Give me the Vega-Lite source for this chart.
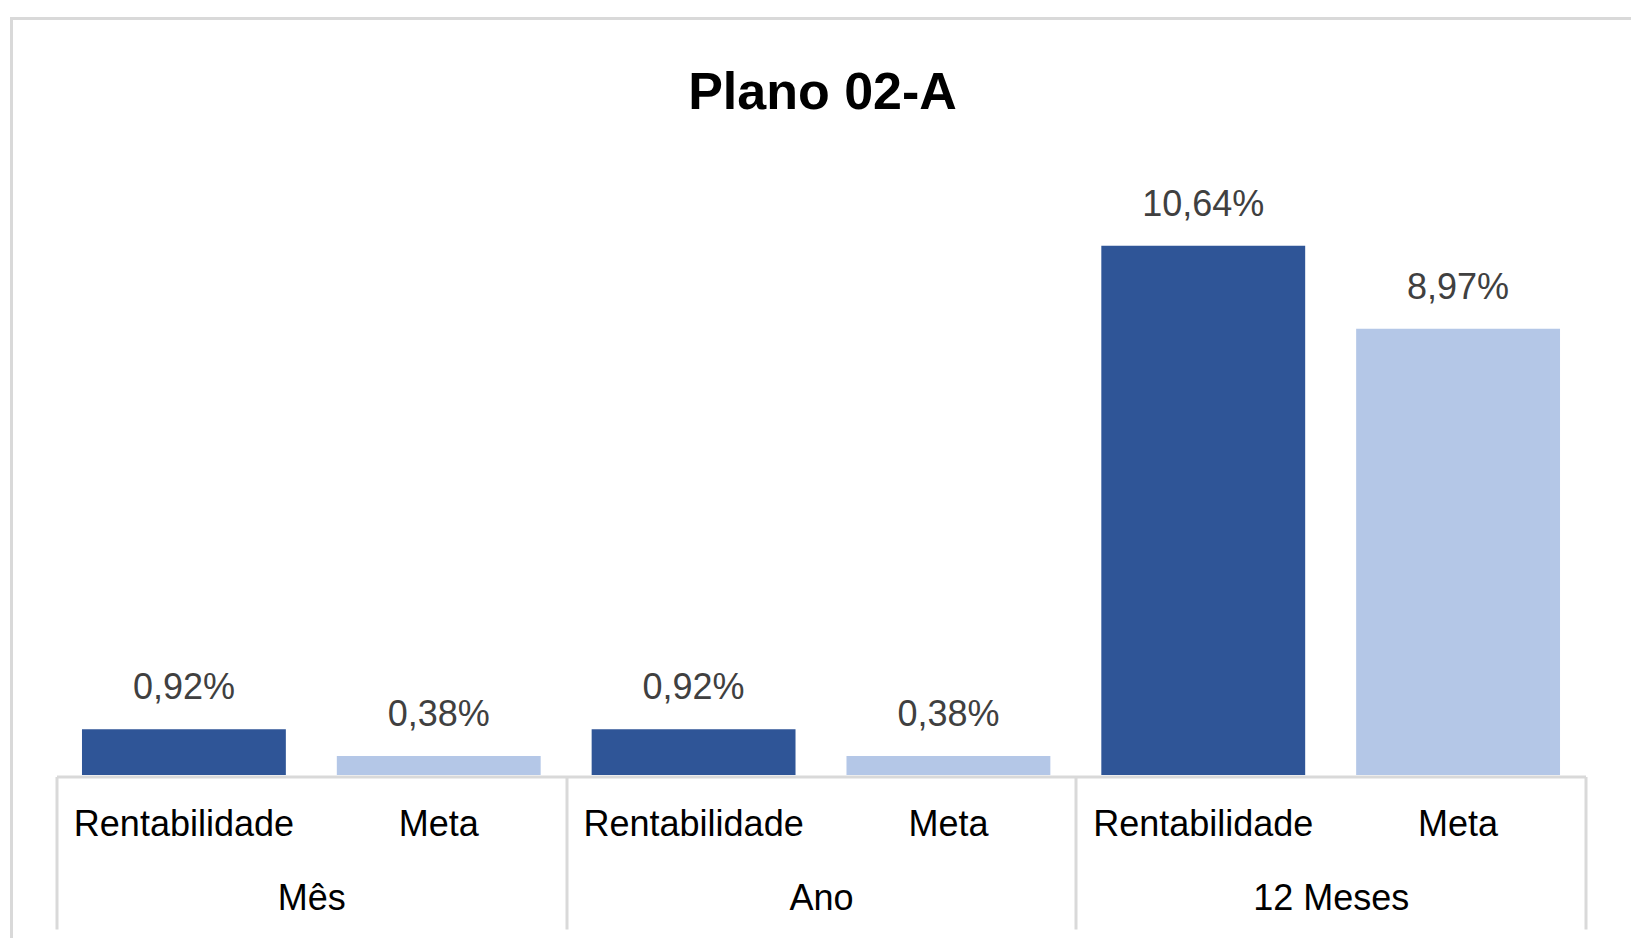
{
  "$schema": "https://vega.github.io/schema/vega-lite/v6.json",
  "autosize": {"type": "none"},
  "padding": {"left": 11.5, "top": 18.5, "right": 0, "bottom": 0},
  "width": 1640,
  "height": 940,
  "background": "#ffffff",
  "config": {
    "view": {"stroke": "#d9d9d9", "strokeWidth": 3},
    "locale": {"number": {"decimal": ",", "thousands": ".", "grouping": [3], "currency": ["R$", ""]}}
  },
  "title": {
    "text": "Plano 02-A",
    "font": "Liberation Sans",
    "fontSize": 52,
    "fontWeight": "bold",
    "color": "#000000",
    "anchor": "middle",
    "frame": "group",
    "offset": -91.5,
    "baseline": "alphabetic",
    "dx": -9,
    "dy": 51
  },
  "data": {
    "values": [
      {"key": "Mês|Rentabilidade", "grupo": "Mês", "serie": "Rentabilidade", "valor": 0.0092},
      {"key": "Mês|Meta", "grupo": "Mês", "serie": "Meta", "valor": 0.0038},
      {"key": "Ano|Rentabilidade", "grupo": "Ano", "serie": "Rentabilidade", "valor": 0.0092},
      {"key": "Ano|Meta", "grupo": "Ano", "serie": "Meta", "valor": 0.0038},
      {"key": "12 Meses|Rentabilidade", "grupo": "12 Meses", "serie": "Rentabilidade", "valor": 0.1064},
      {"key": "12 Meses|Meta", "grupo": "12 Meses", "serie": "Meta", "valor": 0.0897}
    ]
  },
  "layer": [
    {
      "encoding": {
        "x": {
          "field": "key",
          "type": "nominal",
          "sort": null,
          "scale": {"range": [45, 1574], "paddingInner": 0.2, "paddingOuter": 0.1},
          "axis": {
            "orient": "bottom",
            "offset": -182,
            "title": null,
            "labelExpr": "split(datum.value, '|')[1]",
            "labelAngle": 0,
            "labelLimit": 0,
            "labelFont": "Liberation Sans",
            "labelFontSize": 36,
            "labelColor": "#000000",
            "labelBaseline": "alphabetic",
            "labelPadding": 58.5,
            "ticks": false,
            "grid": false,
            "domain": true,
            "domainColor": "#d9d9d9",
            "domainWidth": 3
          }
        },
        "y": {
          "field": "valor",
          "type": "quantitative",
          "scale": {"domain": [0, 0.12], "range": [756.5, 159.5], "nice": false, "zero": true},
          "axis": null
        }
      },
      "layer": [
        {
          "mark": {"type": "bar"},
          "encoding": {
            "color": {
              "field": "serie",
              "type": "nominal",
              "scale": {"domain": ["Rentabilidade", "Meta"], "range": ["#2f5597", "#b4c7e7"]},
              "legend": null
            }
          }
        },
        {
          "mark": {
            "type": "text",
            "baseline": "alphabetic",
            "align": "center",
            "dy": -30,
            "font": "Liberation Sans",
            "fontSize": 36,
            "color": "#404040"
          },
          "encoding": {
            "text": {"field": "valor", "type": "quantitative", "format": ".2%"}
          }
        }
      ]
    },
    {
      "mark": {"type": "point", "opacity": 0},
      "encoding": {
        "x": {
          "field": "grupo",
          "type": "nominal",
          "sort": null,
          "scale": {"range": [45, 1574]},
          "axis": {
            "orient": "bottom",
            "offset": -182,
            "title": null,
            "labelAngle": 0,
            "labelLimit": 0,
            "labelFont": "Liberation Sans",
            "labelFontSize": 36,
            "labelColor": "#000000",
            "labelBaseline": "alphabetic",
            "labelPadding": -20,
            "ticks": true,
            "tickBand": "extent",
            "tickSize": 152.5,
            "tickWidth": 3,
            "tickColor": "#d9d9d9",
            "grid": false,
            "domain": false
          }
        }
      }
    }
  ],
  "resolve": {"scale": {"x": "independent"}, "axis": {"x": "independent"}}
}
